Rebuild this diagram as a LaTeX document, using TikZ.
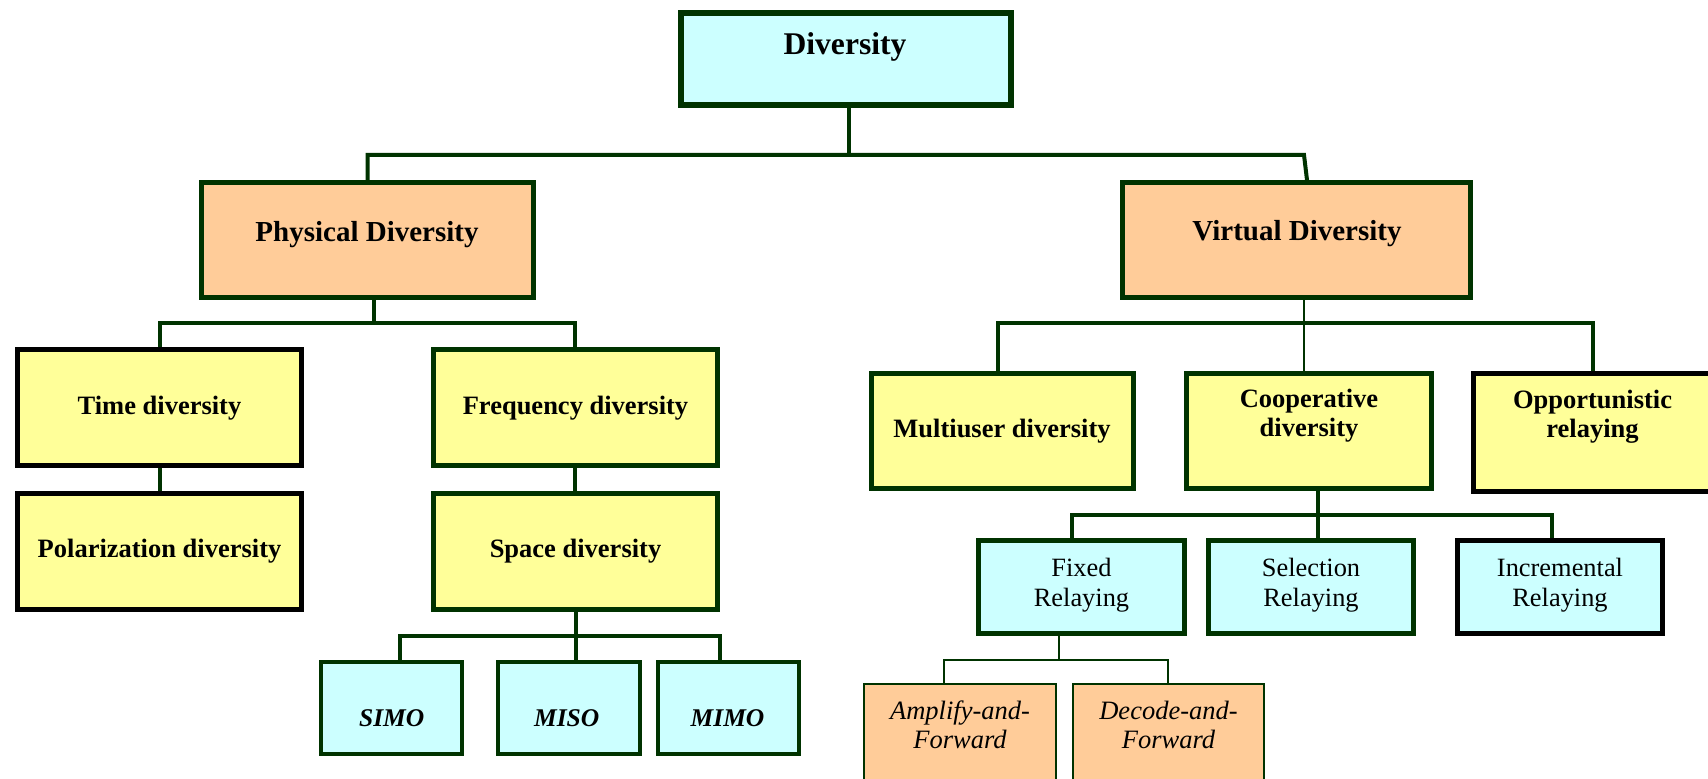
\documentclass[tikz,border=0pt]{standalone}
\usepackage{fontspec}
\setmainfont{Liberation Serif}
\usetikzlibrary{backgrounds}
\definecolor{dkgreen}{RGB}{0,51,0}
\definecolor{cyanbox}{RGB}{204,255,255}
\definecolor{orangebox}{RGB}{255,204,153}
\definecolor{yellowbox}{RGB}{255,255,153}
\tikzset{
  bx/.style={draw=dkgreen, line width=2.5pt, inner sep=0pt, rectangle},
  topbx/.style={bx, line width=3pt, fill=cyanbox},
  orbx/.style={bx, fill=orangebox},
  yebx/.style={bx, fill=yellowbox},
  yebk/.style={bx, draw=black, fill=yellowbox},
  cybx/.style={bx, fill=cyanbox},
  cybk/.style={bx, draw=black, fill=cyanbox},
  cysm/.style={bx, line width=2pt, fill=cyanbox},
  orth/.style={bx, line width=1pt, fill=orangebox},
  conn/.style={draw=dkgreen, line width=2pt},
  thinconn/.style={draw=dkgreen, line width=1pt},
  txt/.style={inner sep=0pt, anchor=base, align=center},
  tA/.style={txt, font=\bfseries\fontsize{15.8}{18}\selectfont},
  tB/.style={txt, font=\bfseries\fontsize{14.5}{17}\selectfont},
  tC/.style={txt, font=\bfseries\fontsize{13.25}{14.8}\selectfont},
  tD/.style={txt, font=\fontsize{13.2}{15}\selectfont},
  tE/.style={txt, font=\bfseries\itshape\fontsize{12.75}{15}\selectfont},
  tF/.style={txt, font=\itshape\fontsize{13.25}{14.6}\selectfont},
}
\begin{document}
\begin{tikzpicture}[x=0.5pt,y=-0.5pt]
\useasboundingbox (0,0) rectangle (1708,779);
\clip (0,0) rectangle (1708,779);

% ---------- boxes ----------
\node[topbx, minimum width=165pt, minimum height=46pt] (div) at (846,59) {};
\node[orbx, minimum width=166pt, minimum height=57.5pt] (phys) at (367.5,240) {};
\node[orbx, minimum width=174pt, minimum height=57.5pt] (virt) at (1296.5,240) {};
\node[yebk, minimum width=142pt, minimum height=58pt] (time) at (159.5,407.5) {};
\node[yebk, minimum width=142pt, minimum height=58pt] (polar) at (159.5,551.5) {};
\node[yebx, minimum width=142pt, minimum height=58pt] (freq) at (575.5,407.5) {};
\node[yebx, minimum width=142pt, minimum height=58pt] (space) at (575.5,551.5) {};
\node[cysm, minimum width=70.5pt, minimum height=46pt] (simo) at (391.5,708) {};
\node[cysm, minimum width=71pt, minimum height=46pt] (miso) at (569,708) {};
\node[cysm, minimum width=70.5pt, minimum height=46pt] (mimo) at (728.5,708) {};
\node[yebx, minimum width=131pt, minimum height=57.5pt] (multi) at (1002.5,431) {};
\node[yebx, minimum width=122.5pt, minimum height=57.5pt] (coop) at (1309,431) {};
\node[yebk, minimum width=119pt, minimum height=59pt] (opp) at (1592.5,432.5) {};
\node[cybx, minimum width=103pt, minimum height=46.5pt] (fixed) at (1081.5,587) {};
\node[cybx, minimum width=102.5pt, minimum height=46.5pt] (sel) at (1311,587) {};
\node[cybk, minimum width=102.5pt, minimum height=46.5pt] (incr) at (1560,587) {};
\node[orth, minimum width=96pt, minimum height=65pt] (amp) at (960,749) {};
\node[orth, minimum width=95.5pt, minimum height=65pt] (dec) at (1168.5,749) {};

% ---------- connectors (behind boxes) ----------
\begin{pgfonlayer}{background}
\fill[white] (0,0) rectangle (1708,779);
% top level
\draw[conn] (div.south -| 849,0) -- (849,155);
\draw[conn] (phys.north) -- (phys.north |- 0,155) -- (1304,155) -- (virt.north -| 1307,0);
% physical
\draw[conn] (phys.south -| 374,0) -- (374,323);
\draw[conn] (time.north -| 160,0) -- (160,323) -- (575,323) -- (freq.north -| 575,0);
\draw[conn] (time.south -| 160,0) -- (polar.north -| 160,0);
\draw[conn] (freq.south -| 575,0) -- (space.north -| 575,0);
\draw[conn] (space.south -| 576,0) -- (miso.north -| 576,0);
\draw[conn] (simo.north -| 400,0) -- (400,636) -- (720,636) -- (mimo.north -| 720,0);
% virtual
\draw[thinconn] (virt.south -| 1304,0) -- (coop.north -| 1304,0);
\draw[conn] (multi.north -| 998,0) -- (998,323) -- (1593,323) -- (opp.north -| 1593,0);
\draw[conn] (coop.south -| 1318,0) -- (sel.north -| 1318,0);
\draw[conn] (fixed.north -| 1072,0) -- (1072,515) -- (1552,515) -- (incr.north -| 1552,0);
\draw[thinconn] (fixed.south -| 1059,0) -- (1059,660);
\draw[thinconn] (amp.north -| 944,0) -- (944,660) -- (1168,660) -- (dec.north -| 1168,0);
\end{pgfonlayer}

% ---------- texts ----------
\node[tA] (tdiv) at (845,55) {Diversity};
\node[tB] (tphys) at (367,242) {Physical Diversity};
\node[tB] (tvirt) at (1297,241) {Virtual Diversity};
\node[tC] (ttime) at (159.5,415) {Time diversity};
\node[tC] (tpolar) at (159.5,558) {Polarization diversity};
\node[tC] (tfreq) at (575.5,415) {Frequency diversity};
\node[tC] (tspace) at (575.5,558) {Space diversity};
\node[tE] (tsimo) at (391.7,727) {SIMO};
\node[tE] (tmiso) at (566.7,727) {MISO};
\node[tE] (tmimo) at (727.5,727) {MIMO};
\node[tC] (tmulti) at (1002,438) {Multiuser diversity};
\node[tC] (tcoop) at (1309,437) {Cooperative\\diversity};
\node[tC] (topp) at (1592.5,438) {Opportunistic\\relaying};
\node[tD] (tfixed) at (1081.5,607) {Fixed\\Relaying};
\node[tD] (tsel) at (1311,607) {Selection\\Relaying};
\node[tD] (tincr) at (1560,607) {Incremental\\Relaying};
\node[tF] (tamp) at (960,749) {Amplify-and-\\Forward};
\node[tF] (tdec) at (1168.5,749) {Decode-and-\\Forward};
\end{tikzpicture}
\end{document}
